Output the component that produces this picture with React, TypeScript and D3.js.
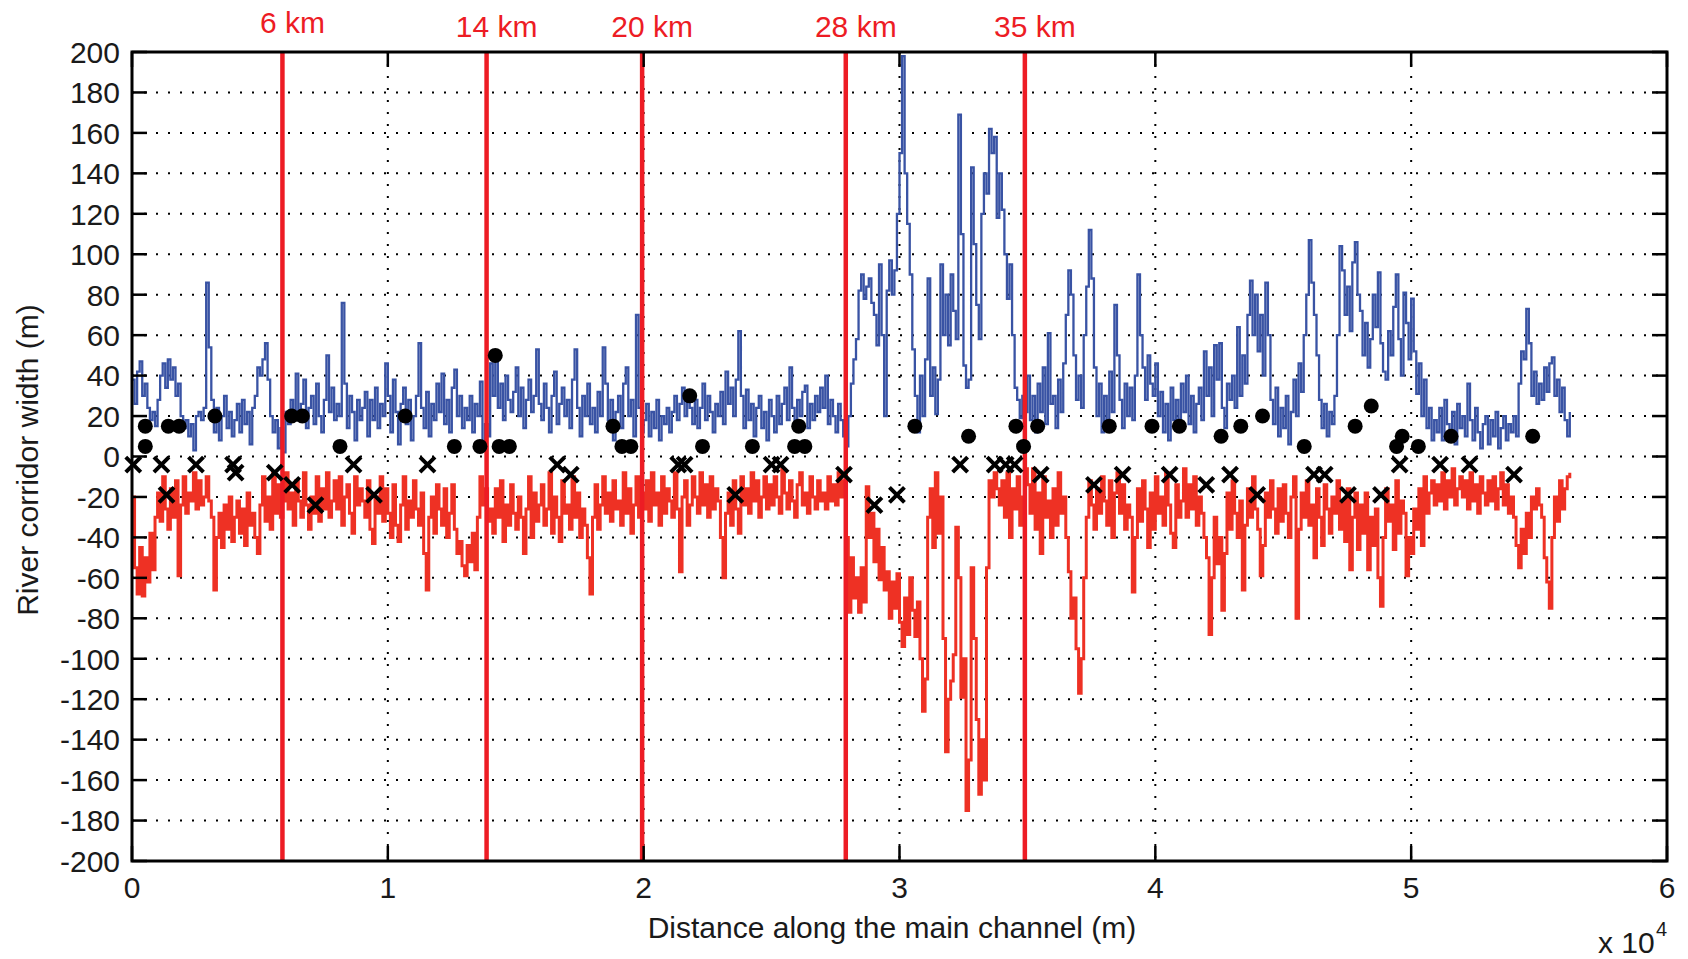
import React from "react";
import * as d3 from "d3";

const WIDTH = 1688;
const HEIGHT = 959;

// x axis ticks in units of 10^4 m
const xTickValues = [0, 1, 2, 3, 4, 5, 6];
const yTickValues = [200, 180, 160, 140, 120, 100, 80, 60, 40, 20, 0, -20, -40, -60, -80, -100, -120, -140, -160, -180, -200];

// sampling step of the corridor width profiles (m)
const sampleStepM = 100;

// upper (left-bank) corridor width, one row per km
const upperWidth: number[] = [
  38, 26, 42, 47, 30, 36, 24, 18, 22, 15,
  28, 40, 46, 34, 48, 38, 44, 30, 36, 20,
  14, 18, 10, 16, 3, 20, 22, 18, 24, 86,
  54, 28, 12, 24, 8, 20, 30, 14, 22, 10,
  18, 26, 12, 28, 16, 22, 6, 24, 30, 44,
  40, 48, 56, 38, 20, 12, 18, 4, 14, 2,
  22, 16, 28, 20, 41, 18, 26, 38, 14, 24,
  30, 16, 36, 20, 12, 28, 50, 22, 34, 18,
  26, 20, 76, 36, 14, 30, 22, 8, 28, 18,
  24, 32, 10, 28, 18, 34, 14, 26, 20, 46,
  30, 12, 38, 22, 6, 26, 34, 16, 28, 8,
  20, 30, 56, 24, 14, 32, 10, 26, 18, 36,
  22, 41, 16, 28, 12, 34, 43, 20, 30, 14,
  24, 18, 30, 12, 26, 20, 37, 4, 16, 10,
  46, 30, 48, 24, 36, 18, 40, 28, 22, 32,
  44, 20, 34, 14, 28, 38, 22, 30, 53, 26,
  18, 36, 24, 12, 30, 42, 16, 26, 34, 20,
  28, 14, 38, 53, 24, 10, 30, 20, 36, 16,
  24, 12, 32, 20, 54, 36, 18, 28, 8, 22,
  30, 14, 36, 44, 20, 28, 10, 70, 24, 12,
  18, 26, 10, 22, 14, 28, 8, 20, 16, 24,
  12, 22, 30, 18, 26, 34, 20, 32, 24, 16,
  28, 14, 24, 36, 18, 30, 22, 12, 26, 20,
  32, 16, 42, 26, 34, 20, 38, 62, 30, 14,
  33, 18, 26, 10, 24, 30, 14, 22, 8, 28,
  20, 12, 30, 16, 26, 34, 18, 44, 24, 14,
  28, 20, 32, 35, 14, 26, 18, 30, 22, 34,
  24, 40, 16, 28, 20, 12, 26, 18, 10, 5,
  20, 36, 48, 58, 82, 90, 78, 84, 88, 76,
  70, 55, 95, 60, 20, 82, 97, 80, 92, 120,
  150, 198, 140, 115, 90, 53, 30, 12, 40, 20,
  48, 88, 30, 44, 21, 38, 95, 60, 80, 55,
  90, 72, 58, 169, 110, 45, 34, 38, 143, 105,
  75, 58, 120, 140, 130, 162, 150, 158, 118, 140,
  122, 100, 78, 95, 60, 34, 28, 19, 30, 22,
  40, 18, 30, 12, 36, 22, 44, 16, 61, 26,
  30, 14, 38, 22, 46, 70, 92, 80, 50, 28,
  40, 24, 60, 84, 112, 88, 44, 20, 36, 12,
  30, 16, 42, 22, 75, 50, 28, 14, 36, 20,
  34, 18, 40, 90, 60, 44, 28, 50, 36, 30,
  46, 20, 32, 12, 26, 8, 34, 18, 28, 14,
  36, 22, 40, 16, 30, 12, 26, 34, 18, 52,
  30, 44, 20, 55, 38, 56, 24, 14, 36, 28,
  40, 24, 64, 30, 50, 36, 70, 87, 60, 80,
  52, 70, 40, 86, 60, 28, 16, 34, 10, 24,
  14, 30, 6, 22, 38, 20, 46, 32, 60, 80,
  107, 86, 70, 50, 28, 14, 26, 10, 22, 16,
  30, 60, 104, 92, 70, 84, 62, 96, 106, 80,
  72, 50, 66, 44, 58, 80, 64, 91, 56, 42,
  38, 62, 50, 74, 90, 58, 40, 81, 66, 48,
  78, 52, 31, 46, 20, 38, 14, 24, 8, 18,
  12, 24, 8, 28, 16, 10, 22, 6, 26, 14,
  20, 10, 36, 18, 8, 24, 12, 4, 16, 20,
  6, 18, 10, 22, 4, 14, 20, 8, 16, 12,
  20, 10, 36, 52, 48, 73, 56, 30, 42, 26,
  36, 28, 44, 32, 46, 49, 30, 38, 22, 34,
  18, 10, 22,
];

// lower (right-bank) corridor width, one row per km
const lowerWidth: number[] = [
  -20, -55, -68, -45, -69, -50, -62, -38, -56, -30,
  -18, -32, -10, -26, -36, -16, -30, -12, -59, -24,
  -10, -28, -18, -22, -8, -26, -12, -24, -20, -10,
  -22, -30, -66, -40, -28, -45, -24, -36, -20, -42,
  -30, -22, -38, -26, -44, -18, -34, -28, -40, -48,
  -24, -10, -32, -20, -36, -8, -28, -14, -30, -22,
  -8, -26, -18, -34, -12, -22, -30, -8, -24, -36,
  -20, -28, -10, -32, -16, -26, -8, -30, -22, -12,
  -26, -10, -34, -20, -14, -28, -38, -10, -24, -16,
  -22, -30, -12, -36, -43, -20, -28, -10, -32, -16,
  -28, -40, -14, -34, -42, -24, -10, -36, -22, -30,
  -12, -26, -34, -18, -48, -66, -30, -20, -38, -14,
  -26, -34, -16, -40, -28, -14, -36, -48, -42, -54,
  -59, -44, -52, -38, -56, -30, -10, -24, -16, -32,
  -26, -38, -16, -30, -12, -42, -24, -34, -14, -28,
  -36, -20, -30, -48, -26, -10, -40, -18, -32, -24,
  -14, -34, -26, -8, -38, -20, -30, -42, -12, -28,
  -24, -36, -10, -30, -18, -40, -26, -34, -50, -68,
  -30, -14, -36, -24, -10, -28, -18, -32, -12, -26,
  -22, -34, -8, -28, -16, -38, -24, -10, -30, -18,
  -26, -12, -32, -8, -24, -18, -34, -10, -28, -16,
  -22, -30, -8, -26, -57, -20, -12, -34, -24, -10,
  -20, -28, -8, -24, -14, -30, -10, -26, -16, -22,
  -40, -60, -28, -18, -34, -12, -26, -38, -10, -24,
  -16, -28, -8, -22, -12, -30, -20, -10, -26, -14,
  -24, -10, -20, -28, -6, -18, -26, -12, -22, -30,
  -14, -8, -24, -18, -28, -10, -20, -26, -12, -22,
  -18, -26, -10, -22, -14, -24, -8, -20, -12, -40,
  -77, -50, -70, -60, -77, -55, -72, -15, -40, -28,
  -52, -36, -61, -45, -66, -57, -80, -62, -75, -58,
  -82, -94, -70, -88, -60, -76, -89, -72, -100, -126,
  -110, -30, -16, -45, -8, -38, -20, -90, -146, -120,
  -111, -98, -35, -60, -119, -100, -175, -150, -55, -90,
  -130, -167, -140, -160, -55, -12, -20, -8, -16, -24,
  -12, -30, -8, -40, -16, -26, -10, -34, -20, -6,
  -14, -28, -6, -36, -18, -48, -10, -30, -22, -40,
  -16, -34, -8, -28, -20, -40, -57, -80, -70, -95,
  -117, -100, -60, -30, -12, -24, -36, -16, -28, -10,
  -22, -34, -12, -40, -18, -8, -28, -14, -36, -24,
  -30, -67, -40, -16, -32, -12, -26, -45, -18, -36,
  -10, -28, -20, -34, -8, -24, -38, -45, -14, -30,
  -22, -6, -30, -14, -26, -10, -34, -20, -28, -40,
  -50, -88, -60, -30, -53, -40, -76, -48, -18, -36,
  -12, -28, -40, -22, -66, -34, -16, -30, -10, -26,
  -36, -59, -44, -18, -30, -12, -26, -38, -16, -32,
  -14, -28, -40, -20, -10, -80, -36, -18, -30, -12,
  -34, -24, -50, -16, -30, -44, -14, -26, -38, -20,
  -28, -12, -36, -22, -42, -16, -56, -30, -18, -46,
  -24, -38, -18, -56, -30, -44, -26, -60, -74, -40,
  -16, -32, -24, -46, -12, -38, -22, -28, -59, -40,
  -48, -26, -36, -16, -44, -10, -28, -18, -12, -24,
  -14, -22, -8, -26, -12, -20, -6, -24, -16, -10,
  -20, -12, -26, -8, -22, -14, -28, -10, -18, -24,
  -12, -22, -10, -26, -16, -8, -24, -14, -28, -20,
  -30, -44, -55, -36, -48, -28, -40, -20, -26, -16,
  -24, -30, -50, -62, -75, -40, -20, -32, -12, -26,
  -16, -10, -8,
];

// filled circles (distance m, width m)
const dotDist = [520, 520, 1420, 1840, 3240, 6240, 6660, 8130, 10680, 12600, 13600, 14200, 14350, 14750, 18800, 19150, 19500, 21800, 22300, 24250, 25900, 26060, 26300, 30600, 32700, 34550, 34850, 35400, 38200, 39870, 40940, 42570, 43340, 44190, 45820, 47810, 48440, 49430, 49650, 50280, 51560, 54750];
const dotVal = [15, 5, 15, 15, 20, 20, 20, 5, 20, 5, 5, 50, 5, 5, 15, 5, 5, 30, 5, 5, 5, 15, 5, 15, 10, 15, 5, 15, 15, 15, 15, 10, 15, 20, 5, 15, 25, 5, 10, 5, 10, 10];

// crosses (distance m, width m)
const crossDist = [50, 1150, 1350, 2500, 3950, 4050, 5580, 6260, 7170, 8660, 9460, 11550, 16620, 17150, 21350, 21600, 23580, 25000, 25350, 27830, 29020, 29900, 32370, 33720, 34150, 34500, 35520, 37600, 38720, 40560, 41990, 42920, 43980, 46200, 46620, 47530, 48820, 49550, 51130, 52280, 54020];
const crossVal = [-4, -4, -19, -4, -4, -8, -8, -14, -24, -4, -19, -4, -4, -9, -4, -4, -19, -4, -4, -9, -24, -19, -4, -4, -4, -4, -9, -14, -9, -9, -14, -9, -19, -9, -9, -19, -19, -4, -4, -4, -9];

// reach boundaries
const sectionDist = [5880, 13860, 19940, 27900, 34900];
const sectionLabels = ["6 km", "14 km", "20 km", "28 km", "35 km"];

const FONT = "'Liberation Sans', Arial, Helvetica, sans-serif";
const BLUE = "#3953a4";
const RED = "#ee3124";
const MARK_RED = "#ed1c24";

export default function App() {
  const left = 132, right = 1667, top = 52, bottom = 861;
  const x = d3.scaleLinear().domain([0, 60000]).range([left, right]);
  const y = d3.scaleLinear().domain([-200, 200]).range([bottom, top]);

  const line = d3
    .line<number>()
    .x((_, i) => x(i * sampleStepM))
    .y((d) => y(d))
    .curve(d3.curveStepAfter);

  const tickLen = 15;
  const xs = 7.5;

  return (
    <div style={{ position: "absolute", left: 0, top: 0 }}>
      <svg width={WIDTH} height={HEIGHT} style={{ display: "block", background: "#fff" }} fontFamily={FONT}>
        <rect x={0} y={0} width={WIDTH} height={HEIGHT} fill="#fff" />
        {/* grid */}
        <g stroke="#000" strokeWidth={2} strokeDasharray="2 10">
          {yTickValues.filter((v) => v !== 200 && v !== -200).map((v) => (
            <line key={"gy" + v} x1={left} x2={right} y1={y(v)} y2={y(v)} />
          ))}
          {xTickValues.filter((v) => v !== 0 && v !== 6).map((v) => (
            <line key={"gx" + v} x1={x(v * 10000)} x2={x(v * 10000)} y1={top} y2={bottom} />
          ))}
        </g>
        {/* data */}
        <path d={line(upperWidth) || ""} fill="none" stroke={BLUE} strokeWidth={2.3} />
        <path d={line(lowerWidth) || ""} fill="none" stroke={RED} strokeWidth={3} />
        {/* reach boundaries */}
        {sectionDist.map((d, i) => (
          <line key={"s" + i} x1={x(d)} x2={x(d)} y1={top} y2={bottom} stroke={MARK_RED} strokeWidth={4.5} />
        ))}
        {sectionDist.map((d, i) => (
          <text key={"sl" + i} x={x(d) + 10} y={i === 0 ? 33 : 37} fill={MARK_RED} fontSize={30} textAnchor="middle">
            {sectionLabels[i]}
          </text>
        ))}
        {/* markers */}
        {dotDist.map((d, i) => (
          <circle key={"d" + i} cx={x(d)} cy={y(dotVal[i])} r={7.5} fill="#000" />
        ))}
        {crossDist.map((d, i) => {
          const cx = x(d), cy = y(crossVal[i]);
          return (
            <path
              key={"c" + i}
              d={`M${cx - xs},${cy - xs}L${cx + xs},${cy + xs}M${cx - xs},${cy + xs}L${cx + xs},${cy - xs}`}
              stroke="#000"
              strokeWidth={4}
              fill="none"
            />
          );
        })}
        {/* axes box */}
        <rect x={left} y={top} width={right - left} height={bottom - top} fill="none" stroke="#000" strokeWidth={3} />
        <g stroke="#000" strokeWidth={2.5}>
          {yTickValues.map((v) => (
            <g key={"yt" + v}>
              <line x1={left} x2={left + tickLen} y1={y(v)} y2={y(v)} />
              <line x1={right} x2={right - tickLen} y1={y(v)} y2={y(v)} />
            </g>
          ))}
          {xTickValues.map((v) => (
            <g key={"xt" + v}>
              <line x1={x(v * 10000)} x2={x(v * 10000)} y1={bottom} y2={bottom - tickLen} />
              <line x1={x(v * 10000)} x2={x(v * 10000)} y1={top} y2={top + tickLen} />
            </g>
          ))}
        </g>
        {/* tick labels */}
        <g fill="#1a1a1a" fontSize={30}>
          {yTickValues.map((v) => (
            <text key={"yl" + v} x={120} y={y(v)} dy="0.36em" textAnchor="end">
              {v}
            </text>
          ))}
          {xTickValues.map((v) => (
            <text key={"xl" + v} x={x(v * 10000)} y={898} textAnchor="middle">
              {v}
            </text>
          ))}
          <text x={1598} y={953}>x 10</text>
          <text x={1656} y={936} fontSize={20}>4</text>
          <text x={892} y={938} textAnchor="middle">Distance along the main channel (m)</text>
          <text transform="translate(38,460) rotate(-90)" textAnchor="middle">River corridor width (m)</text>
        </g>
      </svg>
    </div>
  );
}
